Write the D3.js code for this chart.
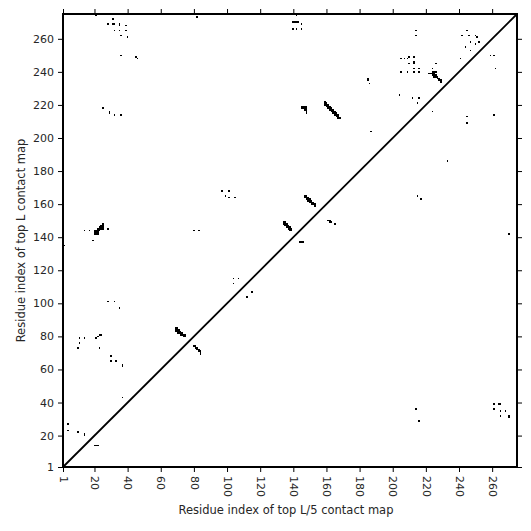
<!DOCTYPE html>
<html><head><meta charset="utf-8">
<script src="https://cdn.jsdelivr.net/npm/d3@7"></script>
<style>body{margin:0;background:#fff}</style>
</head><body><svg id="c" width="531" height="531"></svg>
<script>
const residueDomain = [1, 275];
const tickValues = [1, 20, 40, 60, 80, 100, 120, 140, 160, 180, 200, 220, 240, 260];
const xLabel = "Residue index of top L/5 contact map";
const yLabel = "Residue index of top L contact map";

// contacts above the diagonal (top L map): [x, y]
const topLContacts = [
 [21,274],[82,273],[31,272],[28,269],[31,269],[32,269],[35,268],[35,269],[39,268],[32,265],[35,265],[39,265],
 [36,262],[40,261],[36,250],[45,249],[46,248],[25,218],[29,215],[29,216],[32,214],[36,214],
 [142,274],[140,270],[141,270],[142,270],[143,270],[145,269],[140,266],[142,266],[145,266],
 [145,218],[146,218],[147,218],[148,218],[145,219],[146,219],[147,219],[148,219],[148,217],[148,216],[148,215],[147,217],
 [159,220],[159,221],[159,222],[160,219],[160,220],[160,221],[161,218],[161,219],[161,220],[162,217],[162,218],[162,219],
 [163,216],[163,217],[163,218],[164,215],[164,216],[164,217],[165,214],[165,215],[165,216],[166,213],[166,214],[166,215],
 [167,212],[167,213],[167,214],[168,212],
 [245,265],[214,265],[214,262],[242,262],[246,262],[250,262],[251,261],[247,258],[250,257],[252,258],[244,255],
 [247,253],[241,248],[205,248],[207,248],[210,249],[213,249],[209,248],[210,245],[213,246],[213,245],[213,242],
 [216,242],[205,240],[209,240],[213,240],[216,240],[226,245],[224,242],
 [222,239],[223,239],[224,239],[225,239],[224,240],[225,240],[226,240],[224,238],[225,238],[226,238],[225,237],
 [226,237],[227,237],[227,236],[228,236],[228,235],[229,235],[229,234],
 [185,236],[185,235],[186,233],[204,226],[212,224],[216,224],[215,221],[187,204],
 [14,144],[17,144],[19,138],[28,145],[2,135],[80,144],[83,144],[28,101],[32,101],[35,97],
 [20,142],[20,143],[20,144],[21,142],[21,143],[21,144],[22,142],[22,143],[22,144],[22,145],[23,144],[23,145],[23,146],
 [24,145],[24,146],[24,147],[25,145],[25,146],[25,147],[25,148],
 [97,168],[101,168],[99,165],[101,164],[105,164],
 [147,164],[147,165],[148,163],[148,164],[148,165],[149,162],[149,163],[149,164],[150,162],[150,163],[150,161],
 [151,161],[151,162],[151,160],[152,160],[152,161],[153,160],[153,159],
 [134,148],[134,149],[135,147],[135,148],[135,149],[136,146],[136,147],[136,148],[137,145],[137,146],[137,147],
 [138,144],[138,145],[138,146],[139,144],[139,145],
 [104,115],[107,115],[104,112],
 [69,83],[69,84],[69,85],[70,82],[70,83],[70,84],[70,85],[71,82],[71,83],[71,84],[72,81],[72,82],[72,83],[73,81],[73,82],[74,80],[74,81],[75,80],[75,81],
 [11,79],[14,79],[11,76],[10,73],[21,79],[22,80],[23,81],[24,81],[23,73],[30,68],[30,65],[33,65],[37,62],[37,63],[37,43],
 [4,27],[4,23],[10,22],[14,21],[14,20]
];

// contacts below the diagonal (top L/5 map): [x, y]
const topL5Contacts = [
 [215,165],[217,163],[270,142],[233,186],[261,214],[245,213],[245,209],[262,242],[259,250],[261,250],[224,216],
 [144,137],[145,137],[146,137],[161,150],[162,150],[162,149],[163,149],[165,148],[115,107],[112,104],
 [80,74],[81,74],[81,73],[82,73],[82,72],[83,72],[83,71],[84,71],[84,70],[84,69],
 [20,14],[21,14],[22,14],[261,39],[264,39],[265,39],[261,36],[265,35],[268,35],[265,32],[270,31],[270,32],[214,36],[216,29]
];

const svg = d3.select("#c");
const L = 63, R = 517, T = 14, B = 467;
const x = d3.scaleLinear().domain(residueDomain).range([L, R]);
const y = d3.scaleLinear().domain(residueDomain).range([B, T]);
const font = "DejaVu Sans, sans-serif";
const textColor = "#262626";

const plot = svg.append("g");
const allContacts = topLContacts.concat(topL5Contacts);
plot.selectAll("rect.c").data(allContacts).join("rect")
  .attr("class","c")
  .attr("x", d => x(d[0]-0.5))
  .attr("y", d => y(d[1]+0.5))
  .attr("width", d => x(d[0]+0.5)-x(d[0]-0.5))
  .attr("height", d => y(d[1]-0.5)-y(d[1]+0.5))
  .attr("fill","#000")
  .attr("shape-rendering","crispEdges");

plot.append("line")
  .attr("x1", x(residueDomain[0])).attr("y1", y(residueDomain[0]))
  .attr("x2", x(residueDomain[1])).attr("y2", y(residueDomain[1]))
  .attr("stroke","#000").attr("stroke-width",1.8);

// axes
function styleAxis(g){
  g.select(".domain").remove();
  g.selectAll(".tick line").attr("stroke","#000").attr("stroke-width",1);
  g.selectAll(".tick text").attr("fill",textColor).style("font-family",font).style("font-size","11px");
}
const xb = svg.append("g").attr("transform",`translate(0,${B})`)
  .call(d3.axisBottom(x).tickValues(tickValues).tickFormat(d3.format("d")).tickSize(5).tickPadding(4));
styleAxis(xb);
xb.selectAll(".tick text")
  .attr("transform","rotate(90)")
  .attr("text-anchor","start")
  .attr("x", 9).attr("y", 0).attr("dy","0.35em");

const xt = svg.append("g").attr("transform",`translate(0,${T})`)
  .call(d3.axisTop(x).tickValues(tickValues).tickFormat("").tickSize(5));
styleAxis(xt);

const yl = svg.append("g").attr("transform",`translate(${L},0)`)
  .call(d3.axisLeft(y).tickValues(tickValues).tickFormat(d3.format("d")).tickSize(5).tickPadding(4));
styleAxis(yl);

const yr = svg.append("g").attr("transform",`translate(${R},0)`)
  .call(d3.axisRight(y).tickValues(tickValues).tickFormat("").tickSize(5));
styleAxis(yr);

svg.append("rect").attr("x",L).attr("y",T).attr("width",R-L).attr("height",B-T)
  .attr("fill","none").attr("stroke","#000").attr("stroke-width",2);

svg.append("text").attr("x",(L+R)/2 - 4).attr("y",514)
  .attr("text-anchor","middle").attr("fill",textColor)
  .style("font-family",font).style("font-size","11.5px").text(xLabel);
svg.append("text").attr("transform",`translate(25,${(T+B)/2}) rotate(-90)`)
  .attr("text-anchor","middle").attr("fill",textColor)
  .style("font-family",font).style("font-size","11.5px").text(yLabel);
</script></body></html>
